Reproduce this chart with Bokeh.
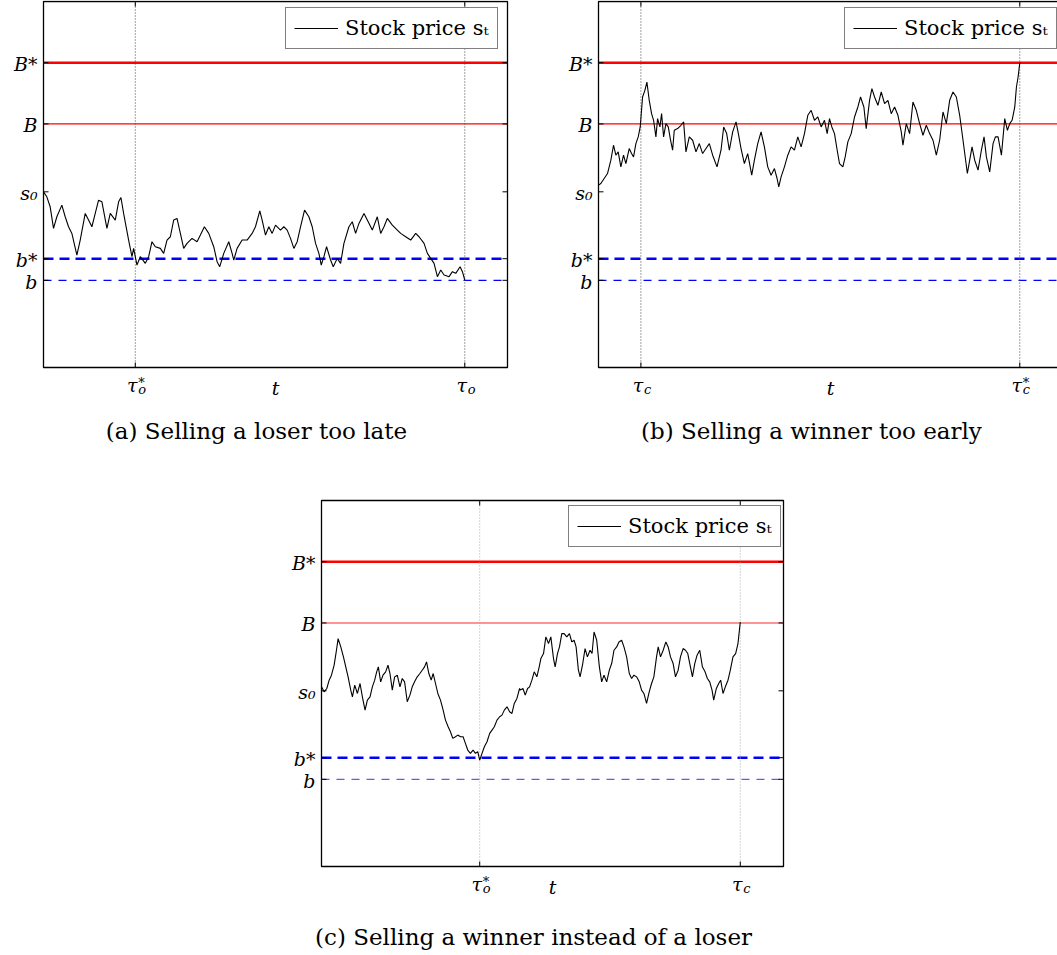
from bokeh.plotting import figure
from bokeh.models import Range1d, Label, Legend, LegendItem
from bokeh.layouts import column, row
from bokeh.embed import file_html
from bokeh.resources import INLINE

SERIF = "DejaVu Serif"

# threshold levels (price units): B*, B, s0, b*, b
level_values = [914, 730, 526, 325, 260]
level_names = ["B*", "B", "s\u2080", "b*", "b"]
T_END = 1390          # right end of the time axis
P_MIN, P_MAX = -2, 1098   # price axis limits

# ---- panel (a): selling a loser too late ----
t_a = [0, 10, 20, 30, 40, 55, 65, 75, 85, 100,
       110, 125, 135, 145, 155, 165, 175, 190, 200, 215,
       225, 232, 240, 255, 265, 270, 280, 290, 305, 315,
       325, 335, 350, 360, 370, 380, 390, 400, 410, 420,
       430, 445, 460, 470, 482, 495, 510, 520, 528, 540,
       555, 565, 570, 580, 595, 610, 625, 635, 648, 655,
       665, 675, 685, 695, 710, 720, 730, 740, 750, 760,
       770, 782, 795, 805, 815, 825, 832, 840, 848, 860,
       868, 880, 890, 900, 915, 925, 935, 945, 960, 970,
       985, 1000, 1010, 1020, 1030, 1045, 1060, 1070, 1085, 1100,
       1115, 1125, 1140, 1150, 1160, 1170, 1180, 1190, 1200, 1215,
       1225, 1235, 1248, 1255, 1262]
price_a = [526, 511, 481, 416, 451, 486, 451, 421, 401, 336,
           381, 461, 441, 421, 461, 501, 496, 416, 461, 441,
           496, 509, 461, 381, 331, 356, 306, 331, 311, 331,
           376, 361, 356, 341, 381, 391, 441, 446, 401, 356,
           371, 386, 376, 396, 421, 401, 361, 316, 301, 341,
           376, 341, 321, 356, 381, 381, 401, 421, 469, 441,
           396, 421, 401, 426, 411, 421, 411, 386, 356, 376,
           421, 471, 451, 421, 371, 341, 306, 331, 361, 321,
           301, 326, 311, 371, 421, 436, 401, 431, 461, 441,
           411, 451, 401, 421, 446, 426, 411, 401, 391, 381,
           401, 391, 371, 341, 326, 311, 271, 291, 276, 271,
           286, 281, 301, 286, 261]
tau_a = [275, 1262]
tau_a_sub = ["o", "o"]
tau_a_star = [True, False]

# ---- panel (b): selling a winner too early ----
t_b = [0, 7, 17, 27, 37, 45, 52, 59, 67, 75,
       82, 92, 99, 105, 112, 119, 125, 132, 139, 145,
       152, 159, 165, 172, 177, 184, 189, 195, 202, 209,
       215, 222, 227, 237, 247, 255, 262, 272, 282, 292,
       302, 312, 322, 332, 342, 355, 367, 375, 384, 392,
       402, 412, 419, 427, 437, 447, 459, 467, 477, 487,
       497, 507, 517, 527, 535, 540, 547, 557, 567, 577,
       587, 597, 607, 617, 627, 637, 647, 657, 667, 677,
       685, 692, 699, 707, 715, 722, 732, 739, 747, 757,
       767, 777, 785, 795, 802, 812, 819, 827, 837, 847,
       857, 867, 877, 887, 897, 907, 912, 922, 932, 942,
       952, 962, 972, 982, 992, 1002, 1012, 1022, 1032, 1042,
       1052, 1062, 1072, 1082, 1092, 1105, 1112, 1119, 1127, 1137,
       1147, 1155, 1162, 1172, 1182, 1189, 1197, 1207, 1217, 1225,
       1232, 1239, 1247, 1252, 1257, 1262]
price_b = [546, 551, 566, 581, 621, 666, 636, 646, 601, 636,
           611, 656, 641, 631, 671, 691, 721, 811, 831, 856,
           801, 761, 741, 691, 746, 721, 761, 691, 731, 721,
           686, 651, 711, 716, 726, 736, 646, 691, 681, 646,
           671, 641, 656, 671, 636, 601, 651, 721, 701, 651,
           706, 736, 701, 656, 611, 641, 576, 621, 671, 706,
           661, 601, 576, 596, 566, 541, 571, 601, 636, 661,
           651, 691, 661, 701, 756, 771, 741, 751, 721, 741,
           701, 746, 721, 701, 651, 611, 601, 631, 676, 701,
           751, 781, 811, 781, 716, 801, 836, 811, 786, 826,
           791, 801, 761, 781, 756, 706, 666, 731, 701, 796,
           771, 731, 696, 726, 701, 681, 636, 681, 766, 731,
           801, 826, 811, 756, 681, 581, 621, 661, 621, 591,
           651, 691, 631, 586, 671, 691, 691, 636, 746, 711,
           731, 741, 781, 841, 871, 914]
tau_b = [127, 1262]
tau_b_sub = ["c", "c"]
tau_b_star = [False, True]

# ---- panel (c): selling a winner instead of a loser ----
t_c = [0, 8, 16, 23, 30, 38, 45, 50, 58, 66,
       73, 80, 88, 93, 100, 108, 116, 123, 131, 138,
       146, 153, 160, 166, 171, 178, 185, 193, 200, 206,
       213, 220, 228, 236, 243, 250, 258, 266, 273, 280,
       288, 296, 303, 310, 316, 323, 330, 336, 343, 350,
       358, 366, 373, 381, 388, 395, 403, 410, 418, 426,
       433, 440, 448, 456, 463, 470, 476, 483, 490, 498,
       506, 513, 520, 528, 536, 543, 550, 558, 566, 573,
       580, 588, 596,
       598, 606, 613, 620, 626, 633, 640, 648, 655, 660,
       668, 675, 683, 690, 698, 703, 710, 716, 723, 730,
       738, 746, 753, 760, 766, 773, 778, 786, 793, 800,
       808, 814, 820, 828, 836, 843, 850, 858, 866, 873,
       880, 888, 895, 903, 910, 918, 926, 933, 940, 948,
       956, 963, 970, 978, 986, 993, 1000, 1008, 1013, 1020,
       1028, 1036, 1043, 1050, 1058, 1065, 1073, 1080, 1088, 1095,
       1102, 1108, 1116, 1123, 1130, 1138, 1146, 1154, 1161, 1168,
       1175, 1180, 1188, 1195, 1201, 1208, 1215, 1223, 1230, 1238,
       1246, 1253, 1260]
price_c = [538, 523, 533, 558, 573, 603, 648, 683, 658, 628,
           598, 568, 528, 508, 543, 518, 548, 508, 468, 498,
           508, 538, 558, 583, 598, 553, 573, 583, 603, 578,
           528, 568, 573, 538, 563, 553, 493, 513, 538, 553,
           568, 578, 588, 598, 613, 578, 558, 578, 548, 518,
           498, 468, 438, 418, 403, 383, 388, 393, 388, 388,
           368, 348, 338, 348, 338, 343, 318, 338, 358, 373,
           398, 408, 418, 438, 448, 453, 468, 478, 463, 458,
           488, 503, 533,
           528, 533, 513, 533, 538, 558, 583, 568, 598, 623,
           638, 688, 668, 688, 623, 598, 638, 658, 698, 698,
           688, 698, 673, 678, 658, 588, 568, 608, 653, 628,
           648, 638, 703, 678, 598, 553, 573, 553, 588, 608,
           648, 658, 673, 678, 658, 628, 578, 563, 573, 568,
           553, 528, 518, 488, 523, 548, 568, 628, 658, 628,
           648, 673, 658, 628, 608, 568, 588, 628, 653, 648,
           638, 608, 568, 608, 633, 648, 598, 583, 563, 553,
           528, 498, 533, 548, 558, 518, 538, 558, 588, 628,
           638, 668, 733]
tau_c = [476, 1260]
tau_c_sub = ["o", "c"]
tau_c_star = [True, False]

captions = ["(a) Selling a loser too late",
            "(b) Selling a winner too early",
            "(c) Selling a winner instead of a loser"]
legend_label = "Stock price s\u209c"


def make_panel(t, price, taus, subs, stars, caption, fig_w, fig_h,
               box_left, box_top, box_w, box_h, light, legend_xy, cap_off):
    ux = T_END / box_w                 # data units per pixel (x)
    uy = (P_MAX - P_MIN) / box_h       # data units per pixel (y)
    x0 = -box_left * ux
    x1 = (fig_w - box_left) * ux
    y1 = P_MAX + box_top * uy
    y0 = P_MIN - (fig_h - box_top - box_h) * uy
    p = figure(width=fig_w, height=fig_h, x_range=Range1d(x0, x1),
               y_range=Range1d(y0, y1), output_backend="svg",
               toolbar_location=None, min_border=0)
    p.axis.visible = False
    p.grid.visible = False
    p.outline_line_color = None
    p.background_fill_color = "white"
    p.border_fill_color = "white"

    # level lines
    b_col = "#ff7070" if light else "red"
    b_w = 1.5 if light else 1.2
    bb_col = "#5c5cff" if light else "blue"
    bb_w = 1.3 if light else 1.1
    styles = [("red", 2.5, "solid"), (b_col, b_w, "solid"), None,
              ("blue", 2.5, "10 6"), (bb_col, bb_w, "8 7")]
    for val, st in zip(level_values, styles):
        if st is None:
            continue
        col, w, dash = st
        p.segment(x0=[0], y0=[val], x1=[T_END], y1=[val], line_color=col,
                  line_width=w, line_dash=dash)

    # dotted verticals at stopping times
    vcol = "#aaaaaa" if light else "#444444"
    p.segment(x0=taus, y0=[P_MIN] * len(taus), x1=taus, y1=[P_MAX] * len(taus),
              line_color=vcol, line_width=1, line_dash="1 2")

    # price path
    r = p.line(t, price, line_color="black", line_width=1.1)

    # box and inward ticks
    p.quad(left=[0], right=[T_END], bottom=[P_MIN], top=[P_MAX],
           fill_color=None, line_color="black", line_width=1.3)
    tk = 5
    n = len(taus)
    p.segment(x0=taus, y0=[P_MIN] * n, x1=taus, y1=[P_MIN + tk * uy] * n,
              line_color="black", line_width=1)
    p.segment(x0=taus, y0=[P_MAX] * n, x1=taus, y1=[P_MAX - tk * uy] * n,
              line_color="black", line_width=1)
    m = len(level_values)
    p.segment(x0=[0] * m, y0=level_values, x1=[tk * ux] * m, y1=level_values,
              line_color="black", line_width=1)
    p.segment(x0=[T_END] * m, y0=level_values, x1=[T_END - tk * ux] * m,
              y1=level_values, line_color="black", line_width=1)

    # y tick labels
    for val, name in zip(level_values, level_names):
        p.add_layout(Label(x=0, y=val, x_offset=-6, y_offset=-1.5, text=name,
                           text_font=SERIF, text_font_style="italic",
                           text_font_size="19px", text_align="right",
                           text_baseline="alphabetic", text_color="black"))
    # x tick labels
    for tau, sub, star in zip(taus, subs, stars):
        p.add_layout(Label(x=tau, y=P_MIN, x_offset=-3, y_offset=-17,
                           text="\u03c4", text_font=SERIF,
                           text_font_style="italic", text_font_size="19px",
                           text_align="center", text_baseline="alphabetic",
                           text_color="black"))
        p.add_layout(Label(x=tau, y=P_MIN, x_offset=3, y_offset=-22, text=sub,
                           text_font=SERIF, text_font_style="italic",
                           text_font_size="13px", text_align="left",
                           text_baseline="alphabetic", text_color="black"))
        if star:
            p.add_layout(Label(x=tau, y=P_MIN, x_offset=3, y_offset=-15,
                               text="*", text_font=SERIF, text_font_size="13px",
                               text_align="left", text_baseline="alphabetic",
                               text_color="black"))
    p.add_layout(Label(x=T_END / 2, y=P_MIN, y_offset=-20, text="t",
                       text_font=SERIF, text_font_style="italic",
                       text_font_size="19px", text_align="center",
                       text_baseline="alphabetic", text_color="black"))
    p.add_layout(Label(x=638, y=P_MIN, y_offset=cap_off, text=caption,
                       text_font=SERIF, text_font_size="23px",
                       text_align="center", text_baseline="alphabetic",
                       text_color="black"))

    legend = Legend(items=[LegendItem(label=legend_label, renderers=[r])],
                    location=legend_xy, padding=8, spacing=0, margin=0,
                    glyph_width=44, glyph_height=20, label_standoff=7,
                    label_height=20, label_text_font=SERIF,
                    label_text_font_size="21px", label_text_color="black",
                    border_line_color="black", border_line_width=1.5,
                    background_fill_color="white", background_fill_alpha=1.0)
    p.add_layout(legend)
    return p


fa = make_panel(t_a, price_a, tau_a, tau_a_sub, tau_a_star, captions[0],
                545, 470, 43, 1, 464, 366, False, (285, 421), -63)
fb = make_panel(t_b, price_b, tau_b, tau_b_sub, tau_b_star, captions[1],
                512, 470, 53, 1, 464, 366, False, (299, 421), -63)
fc = make_panel(t_c, price_c, tau_c, tau_c_sub, tau_c_star, captions[2],
                1057, 484, 321, 30, 462, 366, True, (568, 407), -70)

layout = column(row(fa, fb), fc)

open("out.html", "w").write(file_html(layout, INLINE))
